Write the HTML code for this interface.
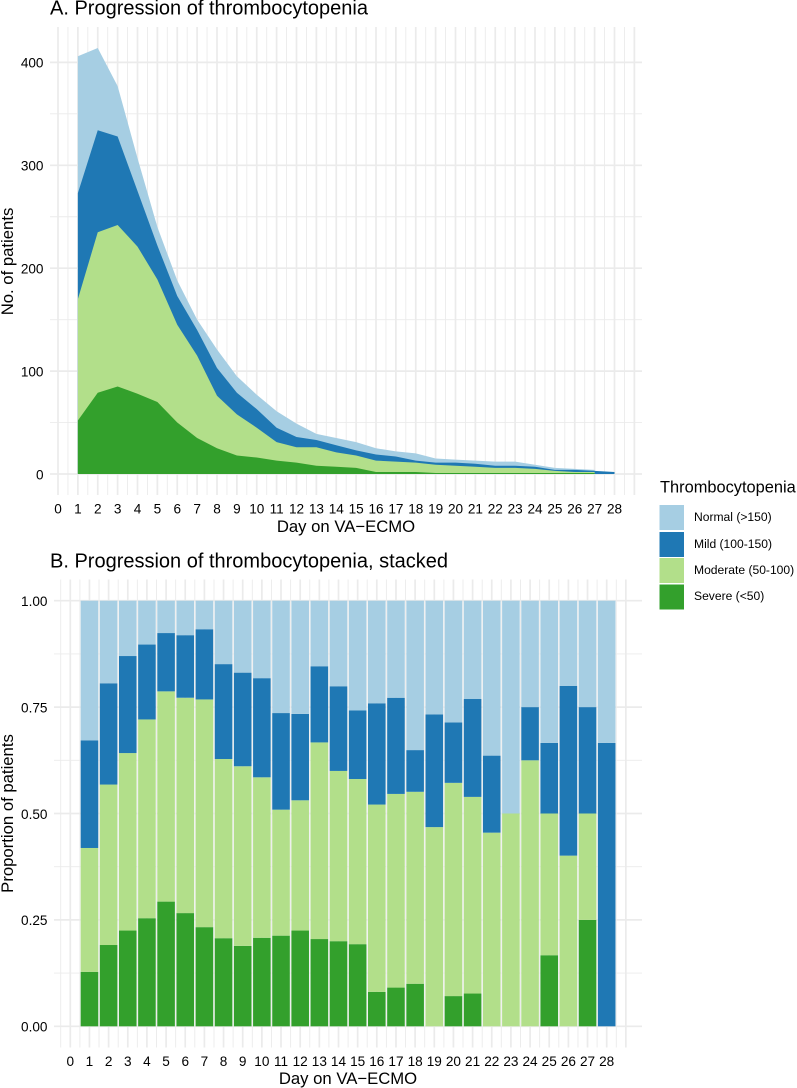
<!DOCTYPE html>
<html lang="en">
<head>
<meta charset="utf-8">
<title>Progression of thrombocytopenia</title>
<style>
  html, body { margin: 0; padding: 0; background: #fff; }
  svg { display: block; font-family: "Liberation Sans", Arial, sans-serif; }
</style>
</head>
<body>
<svg id="chart" width="797" height="1088" viewBox="0 0 797 1088" xmlns="http://www.w3.org/2000/svg">
  <g id="panelA"></g>
  <g id="panelB"></g>

  <text x="50" y="14.5" font-size="20" fill="#000">A. Progression of thrombocytopenia</text>
  <text x="346" y="532" font-size="16.7" text-anchor="middle" fill="#000">Day on VA−ECMO</text>
  <text transform="translate(13 261.5) rotate(-90)" font-size="16.7" text-anchor="middle" fill="#000">No. of patients</text>

  <text x="50" y="567.5" font-size="20" fill="#000">B. Progression of thrombocytopenia, stacked</text>
  <text x="348" y="1084" font-size="16.7" text-anchor="middle" fill="#000">Day on VA−ECMO</text>
  <text transform="translate(13 813.5) rotate(-90)" font-size="16.7" text-anchor="middle" fill="#000">Proportion of patients</text>

  <g>
    <text x="660" y="492.5" font-size="16.4" fill="#000">Thrombocytopenia</text>
    <rect x="659.5" y="505" width="24.5" height="25" fill="#A6CEE3"/>
    <text x="694" y="521" font-size="12.1" fill="#000">Normal (&gt;150)</text>
    <rect x="659.5" y="532" width="24.5" height="25" fill="#1F78B4"/>
    <text x="694" y="548" font-size="12.1" fill="#000">Mild (100-150)</text>
    <rect x="659.5" y="558" width="24.5" height="25" fill="#B2DF8A"/>
    <text x="694" y="574" font-size="12.1" fill="#000">Moderate (50-100)</text>
    <rect x="659.5" y="584.5" width="24.5" height="25" fill="#33A02C"/>
    <text x="694" y="600" font-size="12.1" fill="#000">Severe (&lt;50)</text>
  </g>
</svg>

<script>
// Shared categories
const days = [1,2,3,4,5,6,7,8,9,10,11,12,13,14,15,16,17,18,19,20,21,22,23,24,25,26,27,28];
const xTickLabels = [0,1,2,3,4,5,6,7,8,9,10,11,12,13,14,15,16,17,18,19,20,21,22,23,24,25,26,27,28];

// Panel A: number of patients per day (null = no row that day)
const countSevere   = [52,79,85,78,70,50,35,25,18,16,13,11,8,7,6,2,2,2,1,1,1,1,1,1,1,1,1,null];
const countModerate = [118,156,157,143,119,95,80,51,40,29,18,15,18,14,12,11,10,9,8,7,6,5,5,4,2,1,1,null];
const countMild     = [103,99,86,54,33,28,25,27,21,18,14,10,7,7,5,6,5,2,2,3,3,2,2,2,1,2,1,2];
const countNormal   = [133,80,49,32,18,15,10,18,16,14,16,13,6,7,8,6,5,7,4,3,3,4,4,2,2,1,1,null];
const yTicksA = [0,100,200,300,400];
const yMinorA = [50,150,250,350];

// Panel B: proportion of patients per day
const propSevere   = [.128,.191,.225,.254,.293,.266,.233,.207,.189,.208,.213,.225,.205,.2,.193,.081,.091,.1,0,.071,.077,0,0,0,.167,0,.25,0];
const propModerate = [.291,.377,.417,.467,.494,.506,.535,.421,.422,.377,.296,.306,.462,.4,.388,.44,.455,.451,.468,.501,.462,.455,.5,.625,.333,.401,.25,0];
const propMild     = [.253,.238,.228,.176,.137,.147,.165,.223,.22,.233,.227,.203,.179,.199,.161,.238,.226,.098,.265,.142,.23,.181,0,.125,.166,.399,.25,.666];
const propNormal   = [.328,.194,.13,.103,.076,.081,.067,.149,.169,.182,.264,.266,.154,.201,.258,.241,.228,.351,.267,.286,.231,.364,.5,.25,.334,.2,.25,.334];
const yTicksB = ["0.00","0.25","0.50","0.75","1.00"];
const yMinorB = [.125,.375,.625,.875];

const seriesNames = ["severe","moderate","mild","normal"];
const seriesColors = ["#33A02C","#B2DF8A","#1F78B4","#A6CEE3"];

const NS = "http://www.w3.org/2000/svg";
const GRID = "#ebebeb";

function make(parent, tag, attrs) {
  const el = document.createElementNS(NS, tag);
  for (const k in attrs) el.setAttribute(k, attrs[k]);
  parent.appendChild(el);
  return el;
}

// Axis functions
const xA = d => 58 + 19.875 * d;
const yA = v => 474 - 1.029 * v;
const xB = d => 70.3 + 19.157 * d;
const yB = v => 1026.3 - 425.6 * v;

function drawFrame(g, opt) {
  // horizontal minor
  opt.yMinor.forEach(v => {
    const l = make(g, "line", {x1: opt.left, x2: opt.right, y1: opt.y(v), y2: opt.y(v), stroke: GRID, "stroke-width": 0.9});
    
    
  });
  // vertical minor
  for (let d = opt.minorStart; d <= 28.5; d += 1) {
    const l = make(g, "line", {x1: opt.x(d), x2: opt.x(d), y1: opt.top, y2: opt.bottom, stroke: GRID, "stroke-width": 0.9});
    
    
  }
  // vertical major, including the unlabeled break at 29
  xTickLabels.concat([29]).forEach(d => {
    const l = make(g, "line", {x1: opt.x(d), x2: opt.x(d), y1: opt.top, y2: opt.bottom, stroke: GRID, "stroke-width": 1.7});
    
    
  });
  // horizontal major
  opt.yTicks.forEach(t => {
    const v = Number(t);
    const l = make(g, "line", {x1: opt.left, x2: opt.right, y1: opt.y(v), y2: opt.y(v), stroke: GRID, "stroke-width": 1.7});
    
    
  });
}

function drawLabels(g, opt) {
  opt.yTicks.forEach(t => {
    const v = Number(t);
    const txt = make(g, "text", {x: opt.left - 6.5, y: opt.y(v) + 5.3, "font-size": 13.6, "text-anchor": "end", fill: "#000"});
    
    
    txt.textContent = t;
  });
  xTickLabels.forEach(d => {
    const txt = make(g, "text", {x: opt.x(d), y: opt.labelY, "font-size": 13.6, "text-anchor": "middle", fill: "#000"});
    
    
    txt.textContent = d;
  });
}

// Panel A
const gA = document.getElementById("panelA");
const optA = {left: 50, right: 642, top: 27, bottom: 495, x: xA, y: yA, yTicks: yTicksA, yMinor: yMinorA, minorStart: 0.5, labelY: 513.3};
drawFrame(gA, optA);

const countSeries = [countSevere, countModerate, countMild, countNormal];
// cumulative stacked tops, treating missing values as 0
const stackTops = [];
countSeries.forEach((arr, s) => {
  stackTops.push(arr.map((v, i) => (s ? stackTops[s - 1][i] : 0) + (v === null ? 0 : v)));
});
// paint from top layer down so lower layers overlap
for (let s = countSeries.length - 1; s >= 0; s--) {
  const pts = [];
  let firstDay = null, lastDay = null;
  days.forEach((d, i) => {
    if (countSeries[s][i] === null) return;
    if (firstDay === null) firstDay = d;
    lastDay = d;
    pts.push(xA(d).toFixed(2) + "," + yA(stackTops[s][i]).toFixed(2));
  });
  pts.push(xA(lastDay).toFixed(2) + "," + yA(0).toFixed(2));
  pts.push(xA(firstDay).toFixed(2) + "," + yA(0).toFixed(2));
  const area = make(gA, "polygon", {points: pts.join(" "), fill: seriesColors[s]});
  
  
}
drawLabels(gA, optA);

// Panel B
const gB = document.getElementById("panelB");
const optB = {left: 54, right: 642, top: 579.5, bottom: 1047.5, x: xB, y: yB, yTicks: yTicksB, yMinor: yMinorB, minorStart: -0.5, labelY: 1066};
drawFrame(gB, optB);

const propSeries = [propSevere, propModerate, propMild, propNormal];
days.forEach((d, i) => {
  let base = 0;
  propSeries.forEach((arr, s) => {
    const v = arr[i];
    if (v > 0) {
      const top = base + v;
      const bar = make(gB, "rect", {
        x: (xB(d) - 8.8).toFixed(2),
        y: yB(top).toFixed(2),
        width: 17.6,
        height: (yB(base) - yB(top)).toFixed(2),
        fill: seriesColors[s]
      });
      
      
      base = top;
    }
  });
});
drawLabels(gB, optB);
</script>
</body>
</html>
